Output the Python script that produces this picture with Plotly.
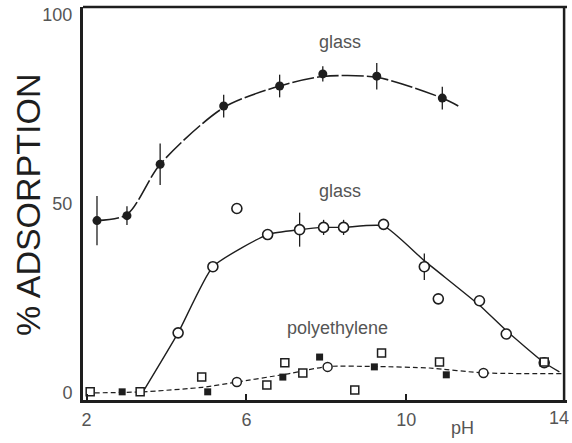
import plotly.graph_objects as go

# ---- data ----
# glass (filled circles, upper curve)
glass1_ph = [2.26, 3.01, 3.84, 5.43, 6.83, 7.91, 9.26, 10.9]
glass1_ads = [45.6, 46.9, 60.5, 75.9, 81.2, 84.4, 83.8, 78.0]
glass1_err = [6.5, 2.5, 5.5, 3.0, 3.0, 2.0, 3.5, 3.0]
glass1_fit_ph = [2.26, 3.01, 3.84, 5.43, 6.83, 7.91, 9.26, 10.9, 11.35]
glass1_fit_ads = [45.6, 47.2, 60.5, 75.5, 81.2, 83.7, 83.5, 78.0, 75.6]

# glass (open circles, middle curve)
glass2_ph = [4.29, 5.16, 5.76, 6.53, 7.33, 7.93, 8.43, 9.43, 10.45, 10.8, 11.83, 12.5, 13.45]
glass2_ads = [15.9, 33.4, 48.8, 41.9, 43.2, 43.8, 43.8, 44.6, 33.4, 24.9, 24.4, 15.6, 8.0]
glass2_err = [0, 0, 0, 0, 4.5, 2.0, 2.0, 0, 3.5, 0, 0, 0, 0]
glass2_fit_ph = [3.41, 4.29, 5.16, 6.53, 7.33, 7.93, 8.43, 9.43, 10.45, 11.83, 12.5, 13.45, 13.83]
glass2_fit_ads = [0.3, 15.9, 33.4, 41.9, 43.2, 43.8, 43.8, 44.2, 35.0, 23.2, 16.5, 8.0, 5.6]

# polyethylene
pe_sq_ph = [2.09, 3.34, 4.88, 6.51, 6.96, 7.41, 8.71, 9.38, 10.83, 13.45]
pe_sq_ads = [0.3, 0.3, 4.2, 2.1, 8.0, 5.3, 0.8, 10.6, 8.2, 8.2]
pe_fill_ph = [2.89, 5.03, 6.91, 7.83, 9.2, 11.0]
pe_fill_ads = [0.3, 0.3, 4.2, 9.5, 6.9, 4.8]
pe_circ_ph = [5.76, 8.03, 11.93]
pe_circ_ads = [2.9, 6.9, 5.3]
pe_fit_ph = [2.0, 3.4, 4.9, 5.76, 7.0, 8.03, 9.2, 10.58, 11.93, 13.88]
pe_fit_ads = [0.0, 0.3, 1.5, 2.9, 5.0, 7.0, 7.0, 6.6, 5.3, 5.1]

x_ticks = [2, 6, 10]
x_last_tick = "14"
y_ticks = [0, 50, 100]

INK = "#1e1e1e"
GRAY = "#555555"
FONT = "Liberation Sans, Arial, sans-serif"

fig = go.Figure()

# fitted curves
fig.add_trace(go.Scatter(x=glass1_fit_ph, y=glass1_fit_ads, mode="lines",
                         line=dict(color=INK, width=1.6, shape="spline", smoothing=0.8, dash="22px,3px"),
                         hoverinfo="skip"))
fig.add_trace(go.Scatter(x=glass2_fit_ph, y=glass2_fit_ads, mode="lines",
                         line=dict(color=INK, width=1.4, shape="spline", smoothing=0.5),
                         hoverinfo="skip"))
fig.add_trace(go.Scatter(x=pe_fit_ph, y=pe_fit_ads, mode="lines",
                         line=dict(color=INK, width=1.2, shape="spline", smoothing=0.6, dash="5px,3px"),
                         hoverinfo="skip"))

# markers
fig.add_trace(go.Scatter(x=glass1_ph, y=glass1_ads, mode="markers",
                         marker=dict(symbol="circle", size=9, color=INK),
                         error_y=dict(type="data", array=glass1_err, color=INK, thickness=1.3, width=0)))
fig.add_trace(go.Scatter(x=glass2_ph, y=glass2_ads, mode="markers",
                         marker=dict(symbol="circle", size=10, color="white", line=dict(color=INK, width=1.6)),
                         error_y=dict(type="data", array=glass2_err, color=INK, thickness=1.3, width=0)))
fig.add_trace(go.Scatter(x=pe_sq_ph, y=pe_sq_ads, mode="markers",
                         marker=dict(symbol="square", size=8, color="white", line=dict(color=INK, width=1.5))))
fig.add_trace(go.Scatter(x=pe_fill_ph, y=pe_fill_ads, mode="markers",
                         marker=dict(symbol="square", size=7, color=INK)))
fig.add_trace(go.Scatter(x=pe_circ_ph, y=pe_circ_ads, mode="markers",
                         marker=dict(symbol="circle", size=9, color="white", line=dict(color=INK, width=1.5))))

# labels
for txt, x, y in [("glass", 8.33, 92.8), ("glass", 8.33, 53.3), ("polyethylene", 8.28, 17.2)]:
    fig.add_annotation(x=x, y=y, text=txt, showarrow=False, xanchor="center", yanchor="middle",
                       font=dict(family=FONT, size=18, color=GRAY))

fig.add_annotation(xref="paper", yref="paper", x=-0.1136, y=0.496, text="% ADSORPTION",
                   xanchor="center", yanchor="middle",
                   textangle=-90, showarrow=False, font=dict(family=FONT, size=34, color=INK))
fig.add_annotation(xref="x", yref="paper", x=11.4, y=-0.071, text="pH", showarrow=False,
                   xanchor="center", yanchor="middle",
                   font=dict(family=FONT, size=18, color=GRAY))
# last x tick label, kept inside the page edge
fig.add_annotation(xref="paper", yref="paper", x=1.0083, y=-0.045, text=x_last_tick, showarrow=False,
                   xanchor="right", yanchor="middle",
                   font=dict(family=FONT, size=18, color=GRAY))

# top and right frame
fig.add_shape(type="line", xref="paper", yref="paper", x0=0, x1=1, y0=1, y1=1,
              line=dict(color=INK, width=2.5))
fig.add_shape(type="line", xref="paper", yref="paper", x0=0.994, x1=0.994, y0=0, y1=1,
              line=dict(color=INK, width=2.5))

fig.update_layout(
    width=572, height=443,
    margin=dict(l=83, r=5, t=7, b=43, autoexpand=False),
    paper_bgcolor="white", plot_bgcolor="white",
    showlegend=False,
    font=dict(family=FONT, color=GRAY),
)
fig.update_xaxes(range=[1.91, 14.02], tickvals=x_ticks, ticktext=[str(v) for v in x_ticks],
                 showgrid=False, zeroline=False, showline=True, linecolor=INK, linewidth=3,
                 ticks="inside", ticklen=6, tickcolor=INK, tickwidth=1.5, automargin=False,
                 tickfont=dict(family=FONT, size=18, color=GRAY), ticklabelstandoff=1)
fig.update_yaxes(range=[-1.86, 102.1], tickvals=y_ticks, ticktext=[str(v) for v in y_ticks],
                 showgrid=False, zeroline=False, showline=True, linecolor=INK, linewidth=3,
                 ticks="", automargin=False,
                 tickfont=dict(family=FONT, size=18, color=GRAY), ticklabelstandoff=4)

fig.write_html("out.html", config={"displayModeBar": False},
               post_script="document.body.style.margin='0';document.body.style.overflow='hidden';")
